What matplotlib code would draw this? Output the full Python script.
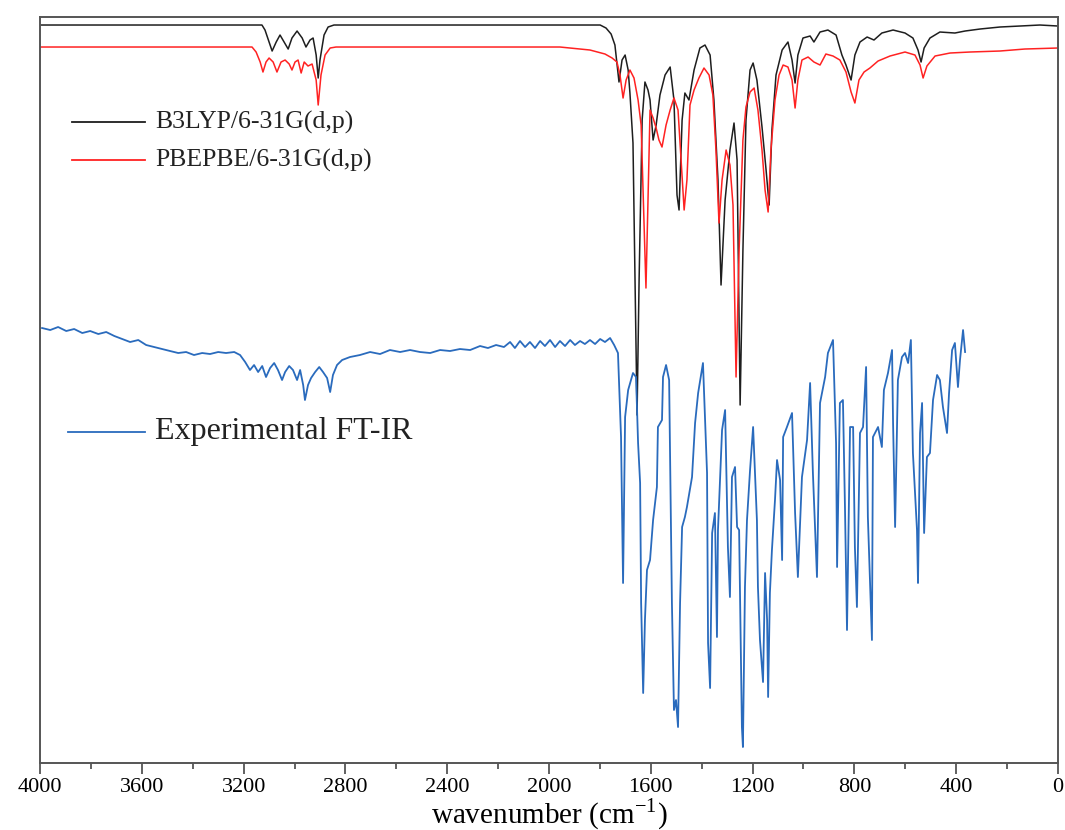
import matplotlib
matplotlib.use("Agg")
from matplotlib import pyplot as plt
from matplotlib.ticker import MultipleLocator
import numpy as np

# IR spectra, wavenumber (cm-1) vs. stacked intensity (arbitrary units)
b3lyp_wn = [4000, 3128, 3116, 3088, 3072, 3057, 3041, 3025, 3010, 2990, 2970, 2955, 2939, 2927,
            2915, 2907, 2900, 2884, 2868, 2845, 1799, 1776, 1756, 1741, 1725, 1713, 1701, 1689,
            1682, 1670, 1662, 1654, 1646, 1634, 1623, 1611, 1603, 1591, 1579, 1564, 1544, 1524,
            1509, 1497, 1489, 1477, 1466, 1450, 1430, 1407, 1387, 1367, 1352, 1336, 1324, 1308,
            1289, 1273, 1261, 1249, 1238, 1226, 1210, 1198, 1183, 1163, 1147, 1135, 1124, 1108,
            1084, 1061, 1045, 1033, 1022, 1002, 974, 959, 935, 904, 872, 849, 833, 813, 798, 778,
            750, 723, 692, 648, 601, 570, 550, 538, 526, 503, 464, 405, 365, 306, 228, 149, 71, 0]
b3lyp_int = [738, 738, 733, 712, 721, 728, 721, 714, 725, 732, 725, 716, 723, 725,
             708, 685, 703, 728, 736, 738, 738, 735, 729, 718, 681, 703, 708, 693,
             670, 620, 483, 348, 483, 643, 681, 673, 663, 623, 638, 668, 688, 696,
             663, 568, 553, 643, 670, 663, 693, 715, 718, 708, 663, 583, 478, 563,
             613, 640, 603, 358, 513, 643, 693, 700, 683, 636, 593, 558, 633, 688,
             713, 721, 703, 680, 708, 725, 727, 721, 731, 733, 728, 708, 698, 683, 708, 721,
             726, 723, 730, 733, 730, 725, 713, 701, 715, 725, 731, 730, 732, 734, 736, 737, 738, 737]

pbe_wn = [4000, 3167, 3151, 3135, 3124, 3112, 3100, 3084, 3069, 3053, 3037, 3021, 3010, 2998,
          2986, 2974, 2962, 2947, 2931, 2915, 2907, 2896, 2880, 2860, 2837, 1957, 1839, 1780,
          1752, 1733, 1721, 1709, 1697, 1682, 1666, 1650, 1638, 1627, 1619, 1611, 1603, 1591,
          1579, 1568, 1556, 1540, 1524, 1509, 1493, 1481, 1469, 1458, 1446, 1430, 1411, 1391,
          1371, 1356, 1344, 1332, 1320, 1304, 1289, 1277, 1265, 1253, 1238, 1226, 1210, 1194,
          1179, 1163, 1151, 1139, 1128, 1112, 1096, 1080, 1061, 1045, 1033, 1022, 1006, 982,
          959, 935, 912, 884, 857, 833, 813, 798, 782, 762, 739, 707, 660, 601, 562, 542, 530,
          515, 483, 424, 346, 228, 130, 0]
pbe_int = [716, 716, 711, 701, 691, 701, 705, 701, 691, 701, 703, 699, 693, 701,
           703, 690, 701, 697, 699, 683, 658, 688, 708, 715, 716, 716, 713, 709,
           705, 701, 688, 665, 683, 693, 685, 663, 638, 543, 475, 563, 653, 645,
           635, 623, 616, 638, 653, 665, 653, 603, 553, 583, 658, 673, 685, 695,
           688, 668, 613, 540, 583, 613, 598, 558, 386, 513, 623, 656, 671, 675,
           653, 613, 573, 551, 613, 663, 688, 698, 696, 683, 655, 683, 703, 706,
           701, 698, 709, 707, 703, 691, 671, 660, 683, 691, 695, 702, 707, 711, 708, 698, 685,
           697, 707, 710, 711, 712, 714, 715]

exp_wn = [3992, 3960, 3929, 3897, 3866, 3834, 3803, 3771, 3740, 3708, 3677, 3646, 3614, 3583,
          3552, 3520, 3489, 3457, 3426, 3395, 3363, 3332, 3300, 3269, 3237, 3214, 3194, 3175,
          3159, 3143, 3127, 3112, 3096, 3080, 3065, 3049, 3037, 3021, 3006, 2990, 2978, 2966,
          2959, 2947, 2935, 2919, 2903, 2888, 2872, 2860, 2849, 2833, 2813, 2782, 2743, 2703,
          2664, 2625, 2585, 2546, 2507, 2467, 2428, 2389, 2350, 2310, 2271, 2240, 2208, 2177,
          2153, 2134, 2114, 2094, 2075, 2055, 2035, 2016, 1996, 1976, 1957, 1937, 1917, 1898,
          1878, 1859, 1839, 1819, 1799, 1780, 1760, 1744, 1729,
          1717, 1709, 1701, 1689, 1670, 1658, 1650, 1642, 1638, 1630, 1623, 1615, 1603, 1591,
          1576, 1572, 1556, 1552, 1540, 1528, 1517, 1509, 1501, 1493, 1485, 1477, 1466, 1458,
          1438, 1426, 1414, 1395, 1379, 1375, 1367, 1359, 1348, 1340, 1336, 1320, 1308, 1297,
          1289, 1281, 1269, 1261, 1253, 1242, 1238, 1230, 1222, 1210, 1198, 1183, 1179, 1171,
          1159, 1151, 1143, 1139, 1132, 1124, 1112, 1104, 1092, 1084, 1080, 1065, 1045, 1033,
          1022, 1006, 986, 974, 963, 947, 935, 915, 904, 884, 872, 868, 857, 845, 837, 829,
          817, 805, 798, 790, 778, 766, 754, 747, 731, 727, 707, 692, 684, 668, 652, 648, 640,
          629, 613, 601, 589, 578, 570, 554, 550, 542, 534, 526, 515, 503, 491, 475, 464, 452,
          436, 428, 416, 405, 393, 385, 373, 365]
exp_int = [435, 433, 436, 432, 434, 430, 432, 429, 431, 427, 424, 421, 423, 418,
           416, 414, 412, 410, 411, 408, 410, 409, 411, 410, 411, 408, 401, 393,
           398, 391, 397, 386, 395, 400, 393, 383, 391, 397, 393, 383, 393, 378,
           363, 378, 385, 391, 396, 391, 385, 371, 388, 398, 403, 406, 408, 411,
           409, 413, 411, 413, 411, 410, 413, 412, 414, 413, 417, 415, 418, 416,
           421, 415, 422, 416, 421, 415, 422, 417, 423, 416, 422, 417, 423, 418,
           422, 419, 423, 419, 424, 421, 425, 418, 410,
           326, 180, 346, 373, 390, 386, 320, 280, 160, 70, 143, 193, 203, 243,
           276, 336, 343, 386, 398, 383, 160, 53, 63, 36, 160, 236, 246, 256,
           286, 340, 370, 400, 290, 120, 75, 230, 250, 126, 233, 333, 353, 216,
           166, 286, 296, 236, 233, 36, 16, 176, 243, 293, 336, 243, 176, 123,
           81, 190, 143, 66, 170, 213, 263, 303, 283, 203, 326, 336, 350, 250,
           186, 286, 323, 380, 290, 186, 360, 386, 410, 423, 320, 196, 360, 363, 256, 133,
           336, 336, 216, 156, 330, 336, 396, 246, 123, 326, 336, 316, 373, 390, 413, 340, 236,
           383, 406, 410, 400, 423, 310, 233, 180, 330, 360, 230, 306, 310, 363, 388, 383, 356,
           330, 370, 413, 420, 376, 403, 433, 411]

legend_labels = ["B3LYP/6-31G(d,p)", "PBEPBE/6-31G(d,p)", "Experimental FT-IR"]
xticks = np.arange(0, 4001, 400)

plt.rcParams['font.family'] = ['Liberation Serif', 'DejaVu Serif']
plt.rcParams['mathtext.fontset'] = 'stix'
fig = plt.figure(figsize=(10.65, 8.3), dpi=100)
ax = fig.add_axes([0.0376, 0.0807, 0.9558, 0.8988])

c_black, c_red, c_blue = "#1e1e1e", "#ff2222", "#2a6bbd"
ax.plot(b3lyp_wn, b3lyp_int, color=c_black, lw=1.1)
ax.plot(pbe_wn, pbe_int, color=c_red, lw=1.1)
ax.plot(exp_wn, exp_int, color=c_blue, lw=1.3)

ax.set_xlim(4000, 0)
ax.set_ylim(0, 746)
ax.set_xticks(xticks)
ax.xaxis.set_minor_locator(MultipleLocator(200))
ax.set_yticks([])
ax.tick_params(axis='x', which='major', direction='out', length=8, width=1.3,
               labelsize=16, color="#555555", pad=3)
ax.tick_params(axis='x', which='minor', direction='out', length=4, width=1.3, color="#555555")
for s in ax.spines.values():
    s.set_color("#555555")
    s.set_linewidth(1.4)
ax.set_xlabel("wavenumber (cm$^{\\mathregular{-1}}$)", fontsize=21, labelpad=0)

# hand placed legend entries
entries = [(0.859, c_black, 18.5), (0.808, c_red, 18.5), (0.444, c_blue, 23)]
for (yy, col, fs), lab in zip(entries, legend_labels):
    x0 = 0.031 if fs < 20 else 0.027
    ax.plot([x0, 0.103], [yy, yy], color=col, lw=1.3, transform=ax.transAxes)
    ax.text(0.113, yy, lab, transform=ax.transAxes, fontsize=fs, va='center',
            ha='left', color="#222222")

plt.savefig("out.png", dpi=100)
